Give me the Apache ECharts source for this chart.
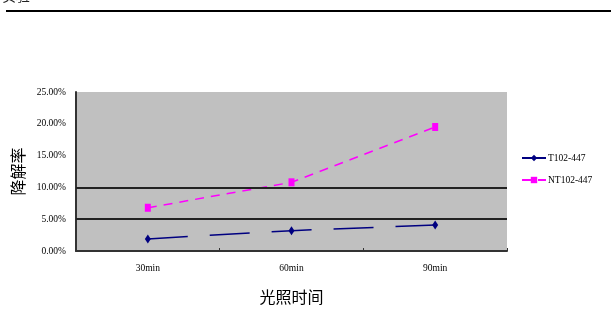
<!DOCTYPE html>
<html>
<head>
<meta charset="utf-8">
<script src="https://cdn.jsdelivr.net/npm/echarts@6/dist/echarts.min.js"></script>
<style>
  html, body { margin: 0; padding: 0; background: #fff; }
  #chart { width: 611px; height: 331px; }
</style>
</head>
<body>
<div id="chart"></div>
<script>
// Irradiation time categories
const categories = ['30min', '60min', '90min'];
// Degradation rate (%) for each sample
const seriesT102 = [1.9, 3.2, 4.1];
const seriesNT102 = [6.8, 10.8, 19.5];
const seriesNames = ['T102-447', 'NT102-447'];
// Reference levels drawn as horizontal rules
const ruleLevels = [10, 5];

const chart = echarts.init(document.getElementById('chart'), null, { renderer: 'canvas' });

const labelFont = { fontFamily: 'Liberation Serif', fontSize: 9.5, color: '#000' };

chart.setOption({
  animation: false,
  backgroundColor: '#fff',
  graphic: [
    {
      type: 'text', left: 2, top: -11,
      style: { text: '实验', font: '14px "Noto Sans CJK SC"', fill: '#222' }
    },
    {
      type: 'rect', shape: { x: 6, y: 10, width: 605, height: 2 },
      style: { fill: '#000' }
    }
  ],
  grid: { left: 76, right: 104, top: 92, bottom: 80, show: true, backgroundColor: '#c0c0c0', borderWidth: 0 },
  legend: {
    orient: 'vertical', left: 516, top: 148, itemGap: 12,
    itemWidth: 24, itemHeight: 8,
    textStyle: { ...labelFont, padding: [0, 0, 0, -3] },
    data: seriesNames
  },
  xAxis: {
    type: 'category', data: categories, boundaryGap: true,
    name: '光照时间', nameLocation: 'middle', nameGap: 38,
    nameTextStyle: { fontFamily: 'Noto Sans CJK SC', fontSize: 16, color: '#000' },
    axisLine: { lineStyle: { color: '#333', width: 2 } },
    axisTick: { show: true, inside: true, length: 3, lineStyle: { color: '#333' } },
    axisLabel: { ...labelFont, margin: 12 },
    splitLine: { show: false }
  },
  yAxis: {
    type: 'value', min: 0, max: 25, interval: 5,
    name: '降解率', nameLocation: 'middle', nameGap: 46, nameRotate: 90,
    nameTextStyle: { fontFamily: 'Noto Sans CJK SC', fontSize: 16, color: '#000' },
    axisLine: { show: true, lineStyle: { color: '#333', width: 2 } },
    axisTick: { show: false },
    axisLabel: { ...labelFont, margin: 10, formatter: v => v.toFixed(2) + '%' },
    splitLine: { show: false }
  },
  series: [
    {
      name: seriesNames[0], type: 'line', data: seriesT102,
      symbol: 'diamond', symbolSize: [6, 9],
      itemStyle: { color: '#000080' },
      lineStyle: { color: '#000080', width: 1.5, type: [40, 22] },
      markLine: {
        silent: true, symbol: 'none', label: { show: false },
        lineStyle: { color: '#222', width: 2, type: 'solid' },
        data: ruleLevels.map(v => ({ yAxis: v }))
      },
      z: 3
    },
    {
      name: seriesNames[1], type: 'line', data: seriesNT102,
      symbol: 'rect', symbolSize: [6, 8],
      itemStyle: { color: '#ff00ff' },
      lineStyle: { color: '#ff00ff', width: 1.5, type: [9, 7] },
      z: 4
    }
  ]
});
</script>
</body>
</html>
